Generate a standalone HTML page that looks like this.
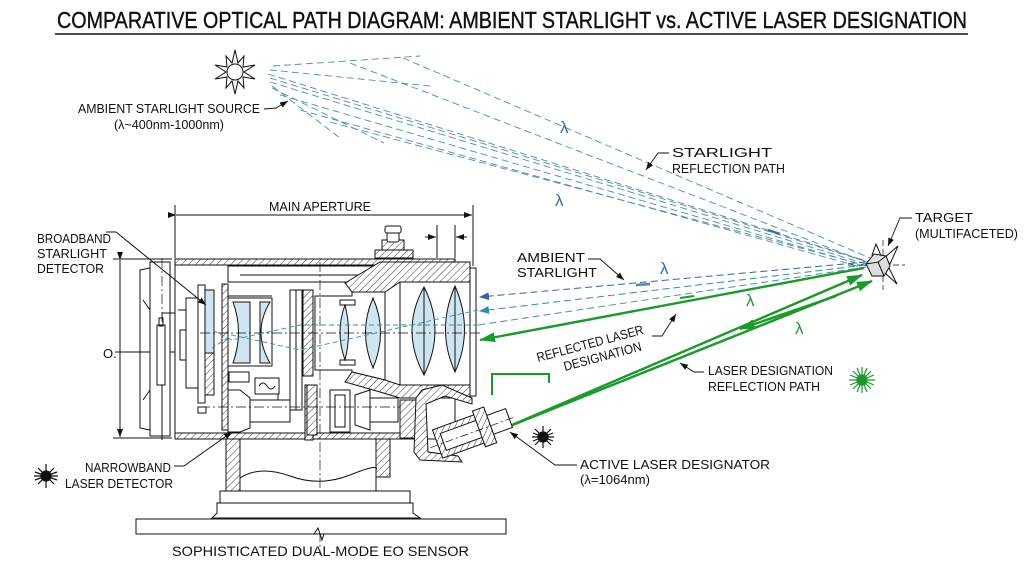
<!DOCTYPE html>
<html><head><meta charset="utf-8"><style>
html,body{margin:0;padding:0;background:#fff}
svg{display:block}
text{font-family:"Liberation Sans",sans-serif;fill:#111}
</style></head><body>
<svg width="1024" height="572" viewBox="0 0 1024 572" xmlns="http://www.w3.org/2000/svg">
<defs>
<pattern id="h" width="5" height="5" patternUnits="userSpaceOnUse" patternTransform="rotate(45)">
<rect width="5" height="5" fill="#fff"/><line x1="0" y1="0" x2="0" y2="5" stroke="#222" stroke-width="0.9"/>
</pattern>
<marker id="ab" markerWidth="10" markerHeight="8" refX="9" refY="4" orient="auto" markerUnits="userSpaceOnUse"><path d="M0,0 L10,4 L0,8 z" fill="#3b5fa0"/></marker>
<marker id="at" markerWidth="10" markerHeight="8" refX="9" refY="4" orient="auto" markerUnits="userSpaceOnUse"><path d="M0,0 L10,4 L0,8 z" fill="#2f8ea0"/></marker>
<marker id="ag" markerWidth="16" markerHeight="10" refX="15" refY="5" orient="auto" markerUnits="userSpaceOnUse"><path d="M0,0 L16,5 L0,10 z" fill="#1a9a2a"/></marker>
<marker id="ak" markerWidth="8" markerHeight="6" refX="8" refY="3" orient="auto" markerUnits="userSpaceOnUse"><path d="M0,0 L8,3 L0,6 z" fill="#111"/></marker>
</defs>

<!-- Title -->
<text x="57" y="28" font-size="23" stroke="#111" stroke-width="0.4" textLength="910" lengthAdjust="spacingAndGlyphs">COMPARATIVE OPTICAL PATH DIAGRAM: AMBIENT STARLIGHT vs. ACTIVE LASER DESIGNATION</text>
<line x1="55" y1="34" x2="968" y2="34" stroke="#111" stroke-width="1.6"/>

<!-- Sun -->
<g transform="translate(235,72)" stroke="#111" fill="none" stroke-width="1">
<circle r="8"/>
<path d="M0,-22 L3,-9 L9,-16 L8,-5 L20,-7 L9,0 L20,7 L8,5 L9,16 L3,9 L0,22 L-3,9 L-9,16 L-8,5 L-20,7 L-9,0 L-20,-7 L-8,-5 L-9,-16 L-3,-9 Z"/>
</g>
<text x="78" y="113" font-size="13" textLength="182" lengthAdjust="spacingAndGlyphs">AMBIENT STARLIGHT SOURCE</text>
<text x="114" y="129" font-size="13" textLength="110" lengthAdjust="spacingAndGlyphs">(λ~400nm-1000nm)</text>
<path d="M264,109 L276,108 L288,101" stroke="#111" fill="none" stroke-width="0.9" marker-end="url(#ak)"/>

<!-- Starlight dashed rays -->
<g stroke="#4a8fa8" stroke-width="0.9" fill="none" stroke-dasharray="7,4">
<path d="M273,66 L420,56"/>
<path d="M270,70 L430,86"/>
<path d="M268,74 L870,262"/>
<path d="M270,78 L868,262"/>
<path d="M270,82 L866,264"/>
<path d="M272,86 L340,138"/>
<path d="M272,88 L384,143"/>
<path d="M350,63 L866,262"/>
<path d="M403,58 L870,258"/>
<path d="M280,95 L866,266"/>
<path d="M300,110 L864,268"/>
<path d="M330,122 L868,266"/>
</g>
<line x1="768" y1="230" x2="780" y2="234" stroke="#3b6fb0" stroke-width="2.5"/>

<text x="560" y="133" font-size="17" style="fill:#2c6db0">λ</text>
<text x="555" y="206" font-size="17" style="fill:#2c6db0">λ</text>
<text x="660" y="274" font-size="17" style="fill:#2c6db0">λ</text>
<text x="746" y="306" font-size="17" style="fill:#1a9a2a">λ</text>
<text x="795" y="334" font-size="17" style="fill:#1a9a2a">λ</text>

<text x="672" y="157" font-size="13" textLength="100" lengthAdjust="spacingAndGlyphs">STARLIGHT</text>
<text x="672" y="173" font-size="13" textLength="113" lengthAdjust="spacingAndGlyphs">REFLECTION PATH</text>
<path d="M669,153 L658,153 L646,170" stroke="#111" fill="none" stroke-width="0.9" marker-end="url(#ak)"/>

<!-- Target -->
<g stroke="#111" stroke-width="1" fill="#fff">
<line x1="848" y1="265" x2="905" y2="265" stroke-dasharray="6,3" stroke-width="0.7"/>
<line x1="883" y1="240" x2="883" y2="290" stroke-dasharray="6,3" stroke-width="0.7"/>
<path d="M872,255 L876,244 L882,258 Z"/>
<path d="M884,258 L898,246 L890,264 Z"/>
<path d="M884,272 L897,284 L888,266 Z"/>
<path d="M866,264 L874,254 L886,256 L890,266 L884,276 L872,276 Z" fill="#ddd"/>
<path d="M866,264 L878,262 L886,256 M878,262 L884,276"/>
</g>
<text x="915" y="222" font-size="13" textLength="58" lengthAdjust="spacingAndGlyphs">TARGET</text>
<text x="915" y="238" font-size="13" textLength="103" lengthAdjust="spacingAndGlyphs">(MULTIFACETED)</text>
<path d="M912,218 L900,218 L888,246" stroke="#111" fill="none" stroke-width="0.9" marker-end="url(#ak)"/>

<!-- Ambient starlight incoming -->
<g fill="none" stroke-dasharray="7,4" stroke-width="1">
<path d="M866,262 L480,297" stroke="#3b5fa0" marker-end="url(#ab)"/>
<path d="M866,265 L480,311" stroke="#2f8ea0" marker-end="url(#at)"/>
<path d="M866,267 L478,325" stroke="#4a8fa8"/>
</g>
<line x1="650" y1="284" x2="636" y2="285" stroke="#4a86c0" stroke-width="2.5"/>
<text x="517" y="262" font-size="13" textLength="68" lengthAdjust="spacingAndGlyphs">AMBIENT</text>
<text x="517" y="277" font-size="13" textLength="80" lengthAdjust="spacingAndGlyphs">STARLIGHT</text>
<path d="M588,259 L600,259 L624,280" stroke="#111" fill="none" stroke-width="0.9" marker-end="url(#ak)"/>

<!-- Green laser -->
<g stroke="#1a9a2a" fill="none" stroke-width="2.4">
<path d="M864,268 L480,340" marker-end="url(#ag)"/>
<path d="M505,428 L862,275" marker-end="url(#ag)"/>
<path d="M505,428 L872,281" marker-end="url(#ag)"/>
<path d="M836,296 L740,329" marker-end="url(#ag)"/>
<path d="M492,395 L492,374 L549,374 L549,383" stroke-width="2"/>
<line x1="680" y1="298" x2="694" y2="296" stroke-width="2"/>
</g>

<text transform="translate(538,362) rotate(-15)" font-size="13" textLength="110" lengthAdjust="spacingAndGlyphs">REFLECTED LASER</text>
<text transform="translate(565,371) rotate(-15)" font-size="13" textLength="80" lengthAdjust="spacingAndGlyphs">DESIGNATION</text>
<path d="M652,336 L662,336 L676,314" stroke="#111" fill="none" stroke-width="0.9" marker-end="url(#ak)"/>

<text x="708" y="375" font-size="13" textLength="125" lengthAdjust="spacingAndGlyphs">LASER DESIGNATION</text>
<text x="708" y="391" font-size="13" textLength="112" lengthAdjust="spacingAndGlyphs">REFLECTION PATH</text>
<path d="M704,372 L694,372 L680,363" stroke="#111" fill="none" stroke-width="0.9" marker-end="url(#ak)"/>

<!-- green star -->
<g transform="translate(862,380)" stroke="#1a9a2a" stroke-width="1.2">
<line x1="-13" y1="0" x2="13" y2="0"/><line x1="0" y1="-13" x2="0" y2="13"/>
<line x1="-9" y1="-9" x2="9" y2="9"/><line x1="-9" y1="9" x2="9" y2="-9"/>
<line x1="-12" y1="-5" x2="12" y2="5"/><line x1="-12" y1="5" x2="12" y2="-5"/>
<line x1="-5" y1="-12" x2="5" y2="12"/><line x1="5" y1="-12" x2="-5" y2="12"/>
<circle r="5" fill="#1a9a2a"/>
</g>
<!-- black stars -->
<g transform="translate(543,437)" stroke="#111" stroke-width="1.2">
<line x1="-11" y1="0" x2="11" y2="0"/><line x1="0" y1="-11" x2="0" y2="11"/>
<line x1="-8" y1="-8" x2="8" y2="8"/><line x1="-8" y1="8" x2="8" y2="-8"/>
<line x1="-10" y1="-4" x2="10" y2="4"/><line x1="-10" y1="4" x2="10" y2="-4"/>
<circle r="5" fill="#111"/>
</g>
<g transform="translate(46,476)" stroke="#111" stroke-width="1.2">
<line x1="-12" y1="0" x2="12" y2="0"/><line x1="0" y1="-12" x2="0" y2="12"/>
<line x1="-8" y1="-8" x2="8" y2="8"/><line x1="-8" y1="8" x2="8" y2="-8"/>
<line x1="-11" y1="-4" x2="11" y2="4"/><line x1="-11" y1="4" x2="11" y2="-4"/>
<circle r="5" fill="#111"/>
</g>

<text x="580" y="469" font-size="13" textLength="190" lengthAdjust="spacingAndGlyphs">ACTIVE LASER DESIGNATOR</text>
<text x="580" y="484" font-size="13" textLength="70" lengthAdjust="spacingAndGlyphs">(λ=1064nm)</text>
<path d="M577,465 L555,465 L510,432" stroke="#111" fill="none" stroke-width="0.9" marker-end="url(#ak)"/>

<!-- ===== SENSOR ===== -->
<g stroke="#111" stroke-width="1" fill="none">
<line x1="175" y1="205" x2="175" y2="258"/>
<line x1="473" y1="205" x2="473" y2="266"/>
<line x1="176" y1="215" x2="472" y2="215" marker-start="url(#ak)" marker-end="url(#ak)"/>
<line x1="437" y1="225" x2="437" y2="258"/>
<line x1="455" y1="225" x2="455" y2="258"/>
<line x1="425" y1="237" x2="436" y2="237" marker-end="url(#ak)"/>
<line x1="467" y1="237" x2="456" y2="237" marker-end="url(#ak)"/>
<line x1="113" y1="259" x2="172" y2="259"/>
<line x1="113" y1="438" x2="172" y2="438"/>
<line x1="120" y1="260" x2="120" y2="437" marker-start="url(#ak)" marker-end="url(#ak)"/>
<line x1="115" y1="352" x2="210" y2="352"/>

<path d="M150,262 L170,262 L170,436 L150,436 Z" fill="#fff"/>
<path d="M140,270 L150,268 L150,430 L140,428 Z"/>
<path d="M143,300 L150,310 M143,400 L150,390"/>
<line x1="162" y1="258" x2="162" y2="440" stroke-dasharray="10,3,2,3" stroke-width="0.7"/>
<rect x="157" y="325" width="8" height="60" fill="#fff"/>
<rect x="159" y="318" width="4" height="8"/>
<line x1="162" y1="385" x2="162" y2="440"/>
<path d="M162,318 L162,313 L198,313"/>

<rect x="175" y="259" width="280" height="180" fill="#fff"/>
<rect x="175" y="259" width="280" height="6" fill="url(#h)"/>
<rect x="175" y="433" width="245" height="6" fill="url(#h)"/>
<line x1="228" y1="265" x2="228" y2="282"/>
<rect x="228" y="266" width="210" height="16"/>
<line x1="240" y1="275" x2="380" y2="275"/>

<rect x="382" y="240" width="22" height="13" fill="url(#h)"/>
<rect x="387" y="232" width="12" height="10" rx="2" fill="#fff"/>
<rect x="385" y="226" width="16" height="7" rx="2" fill="#fff"/>
<rect x="375" y="250" width="38" height="8" fill="url(#h)"/>

<rect x="198" y="285" width="7" height="118" fill="#fff"/>
<rect x="205" y="290" width="9" height="63" fill="#cfe6f2"/>
<rect x="205" y="353" width="9" height="42" fill="url(#h)"/>
<rect x="186" y="298" width="12" height="90" fill="#fff"/>
<path d="M186,310 L178,310 M186,330 L180,330 L180,360 L186,360"/>
<rect x="198" y="407" width="8" height="6"/>

<rect x="222" y="284" width="6" height="146" fill="url(#h)"/>
<rect x="228" y="298" width="44" height="68" fill="#fff"/>
<path d="M233,302 Q244,332 233,363 L250,363 L250,302 Z" fill="#cfe6f2"/>
<path d="M270,302 Q252,332 270,363 L260,363 L260,302 Z" fill="#cfe6f2"/>
<line x1="228" y1="296" x2="272" y2="296"/>

<rect x="290" y="290" width="6" height="120" fill="#fff"/>
<rect x="296" y="290" width="6" height="120" fill="#fff"/>
<rect x="303" y="290" width="10" height="86" fill="url(#h)"/>
<rect x="305" y="385" width="8" height="55" fill="url(#h)"/>

<path d="M315,296 L352,296 L352,292 L385,282 L385,380 L352,372 L352,370 L315,370 Z" fill="#fff"/>
<path d="M345,305 Q335,332 345,360 Q352,332 345,305 Z" fill="#cfe6f2"/>
<path d="M373,298 Q358,332 373,368 Q388,332 373,298 Z" fill="#cfe6f2"/>
<rect x="340" y="300" width="15" height="5"/>
<rect x="340" y="360" width="15" height="5"/>

<path d="M345,283 L380,262 L470,262 L470,282 L400,282 L385,292 L352,292 Z" fill="url(#h)"/>
<path d="M352,372 L385,380 L400,385 L470,385 L470,398 L400,398 L380,392 L345,382 Z" fill="url(#h)"/>
<rect x="400" y="282" width="70" height="103" fill="#fff"/>
<path d="M424,287 Q400,330 424,375 Q446,330 424,287 Z" fill="#cfe6f2"/>
<path d="M455,286 Q436,330 455,372 Q474,330 455,286 Z" fill="#cfe6f2"/>
<line x1="424" y1="287" x2="424" y2="375"/>
<line x1="455" y1="286" x2="455" y2="372"/>
<rect x="470" y="268" width="6" height="128" fill="#fff"/>

<rect x="229" y="372" width="20" height="10"/>
<rect x="255" y="378" width="24" height="16"/>
<path d="M259,386 Q263,380 267,386 T275,386"/>
<path d="M228,390 L240,390 L250,398 L250,428 L240,432 L228,432 Z" fill="#fff"/>
<rect x="250" y="400" width="40" height="22"/>
<line x1="278" y1="394" x2="278" y2="400"/>
<rect x="307" y="385" width="10" height="50" fill="url(#h)"/>
<rect x="330" y="390" width="20" height="42"/>
<rect x="335" y="395" width="10" height="32"/>
<path d="M355,395 L370,390 L370,430 L355,425 Z"/>
<rect x="370" y="398" width="28" height="24"/>
<rect x="400" y="400" width="20" height="38" fill="url(#h)"/>

<line x1="200" y1="333" x2="480" y2="333" stroke-dasharray="10,3,2,3" stroke-width="0.7"/>
<line x1="200" y1="407" x2="400" y2="407" stroke-dasharray="10,3,2,3" stroke-width="0.7"/>
<line x1="320" y1="262" x2="320" y2="555" stroke-dasharray="10,3,2,3" stroke-width="0.7"/>

<g stroke="#2f9a98" stroke-dasharray="5,3" stroke-width="0.9">
<path d="M478,310 L300,350 L232,335 L212,348"/>
<path d="M478,325 L300,325 L232,340 L212,330"/>
</g>

<!-- designator -->
<path d="M416,398 L422,390 L442,385 L472,398 L472,404 L445,396 L426,404 L428,452 L458,456 L462,462 L420,460 L414,452 Z" fill="url(#h)"/>
<g transform="translate(468,434) rotate(-20)">
<rect x="-32" y="-16" width="52" height="30" fill="url(#h)"/>
<rect x="-26" y="-10" width="42" height="18" fill="#fff"/>
<rect x="12" y="-20" width="12" height="38" fill="url(#h)"/>
<rect x="24" y="-11" width="20" height="20" fill="#fff"/>
<line x1="-40" y1="0" x2="48" y2="0" stroke-dasharray="8,3,2,3" stroke-width="0.7"/>
</g>

<rect x="226" y="439" width="14" height="52" fill="url(#h)"/>
<rect x="376" y="439" width="14" height="38" fill="url(#h)"/>
<line x1="240" y1="439" x2="240" y2="491"/>
<line x1="376" y1="477" x2="376" y2="491"/>
<path d="M240,478 Q260,465 290,476 T350,475 T376,470"/>
<rect x="220" y="491" width="190" height="12" fill="#fff"/>
<path d="M217,503 L413,503 L413,513 L420,518 L212,518 L217,513 Z" fill="#fff"/>
<rect x="136" y="519" width="370" height="15" fill="#fff"/>
<path d="M314,534 L318,528 L322,540 L324,534"/>

<path d="M106,232 L116,232 L206,305" marker-end="url(#ak)"/>
<path d="M174,466 L184,466 L232,432" marker-end="url(#ak)"/>
</g>

<text x="37" y="243" font-size="13" textLength="74" lengthAdjust="spacingAndGlyphs">BROADBAND</text>
<text x="37" y="258" font-size="13" textLength="70" lengthAdjust="spacingAndGlyphs">STARLIGHT</text>
<text x="37" y="273" font-size="13" textLength="67" lengthAdjust="spacingAndGlyphs">DETECTOR</text>
<text x="103" y="358" font-size="13">O.</text>
<text x="269" y="211" font-size="13" textLength="102" lengthAdjust="spacingAndGlyphs">MAIN APERTURE</text>
<text x="85" y="472" font-size="13" textLength="86" lengthAdjust="spacingAndGlyphs">NARROWBAND</text>
<text x="65" y="488" font-size="13" textLength="108" lengthAdjust="spacingAndGlyphs">LASER DETECTOR</text>
<text x="172" y="556" font-size="14" textLength="297" lengthAdjust="spacingAndGlyphs">SOPHISTICATED DUAL-MODE EO SENSOR</text>
</svg>
</body></html>
